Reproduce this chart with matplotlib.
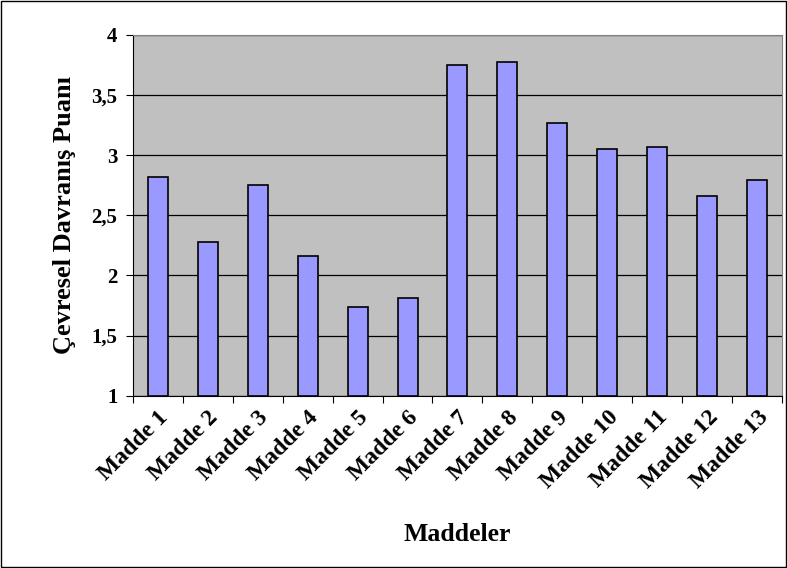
import matplotlib
matplotlib.use("Agg")
import matplotlib.pyplot as plt
import numpy as np

# data
categories = [f"Madde {i}" for i in range(1, 14)]
scores = [2.82, 2.28, 2.75, 2.16, 1.74, 1.81, 3.75, 3.77, 3.27, 3.05, 3.07, 2.66, 2.79]
y_ticks = [1, 1.5, 2, 2.5, 3, 3.5, 4]
y_tick_labels = ["1", "1,5", "2", "2,5", "3", "3,5", "4"]

plt.rcParams["font.family"] = ["Liberation Serif", "DejaVu Serif"]
plt.rcParams["font.weight"] = "bold"

fig = plt.figure(figsize=(7.87, 5.68), dpi=100)
ax = fig.add_axes([0.1686, 0.3033, 0.8254, 0.6356])

x = np.arange(len(categories))
ax.bar(x, np.array(scores) - 1, bottom=1, width=0.4, color="#9999FF",
       edgecolor="black", linewidth=1.2, zorder=3)

ax.set_facecolor("#C0C0C0")
ax.set_xlim(-0.5, len(categories) - 0.5)
ax.set_ylim(1, 4)
ax.set_yticks(y_ticks)
ax.set_yticklabels(y_tick_labels, fontsize=15, fontweight="bold")
ax.yaxis.grid(True, color="black", linewidth=0.9, zorder=1)
ax.set_axisbelow(True)

# category ticks sit on boundaries, labels centered on bars
ax.set_xticks(np.arange(len(categories) + 1) - 0.5)
ax.set_xticklabels([])
ax.set_xticks(x, minor=True)
ax.set_xticklabels(categories, minor=True, rotation=45, ha="right",
                   rotation_mode="anchor", fontsize=17, fontweight="bold")
ax.tick_params(axis="x", which="minor", length=0, pad=8)
ax.tick_params(axis="x", which="major", length=5, direction="out", color="black")
ax.tick_params(axis="y", length=5, direction="out", pad=6)

for side in ("top", "right"):
    ax.spines[side].set_color("#808080")
for side in ("left", "bottom"):
    ax.spines[side].set_color("black")

ax.set_xlabel("Maddeler", fontsize=18.5, fontweight="bold", labelpad=22)
ax.set_ylabel("Çevresel Davranış Puanı", fontsize=19, fontweight="bold", labelpad=11)

# outer frame of the chart
fig.patches.append(plt.Rectangle((0.001, 0.001), 0.998, 0.998, transform=fig.transFigure,
                                 fill=False, edgecolor="black", linewidth=1))

fig.savefig("out.png", dpi=100)
